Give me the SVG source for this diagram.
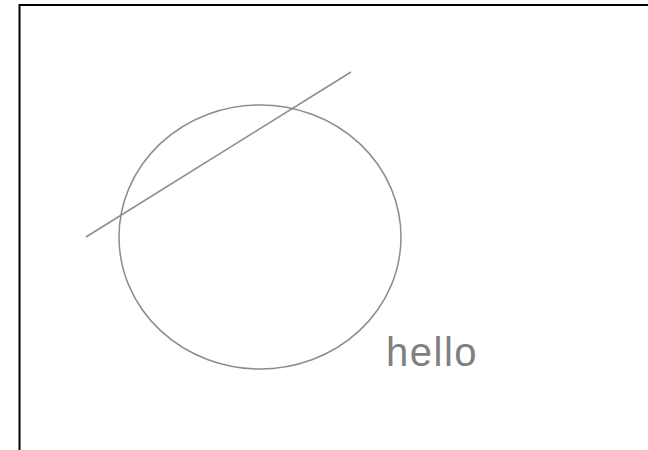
<svg xmlns="http://www.w3.org/2000/svg" width="648" height="450" viewBox="0 0 648 450">
<style>
.shape{fill:none;stroke:#8c8c8c;stroke-width:1.5}
.label{font-family:"Liberation Sans",Arial,sans-serif;font-size:40px;letter-spacing:1.5px;fill:#808080}
</style>
<rect width="648" height="450" fill="#ffffff"/>
<g id="frame"><rect x="19.5" y="5" width="700" height="500" fill="none" stroke="#000" stroke-width="2"/></g>
<g id="circle"><ellipse class="shape" cx="260" cy="237" rx="141" ry="132"/></g>
<g id="connectors"><line class="shape" x1="86" y1="237" x2="351" y2="72"/></g>
<g id="label"><text class="label" x="386" y="366">hello</text></g>
</svg>
